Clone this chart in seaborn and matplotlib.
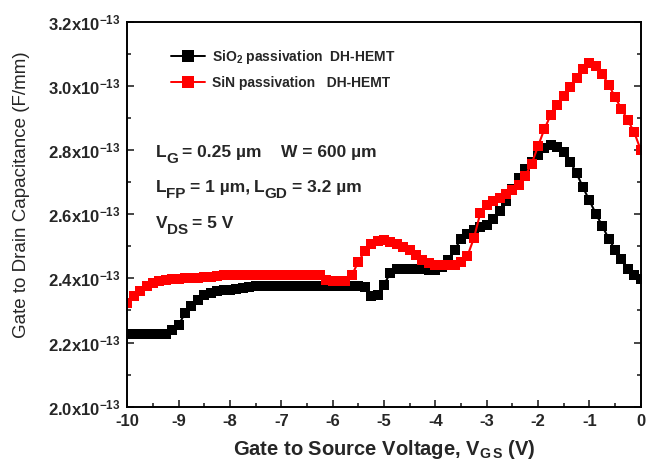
import numpy as np
import pandas as pd
import matplotlib
matplotlib.use("Agg")
import matplotlib.pyplot as plt
from matplotlib.lines import Line2D
from matplotlib.ticker import MultipleLocator, FuncFormatter
import seaborn as sns

# Gate-source voltage sweep (V)
vgs = np.arange(-10.0, 0.0001, 0.125)

# Gate-drain capacitance, in units of 1e-13 F/mm
cgd_sio2 = [
    2.226, 2.226, 2.226, 2.226, 2.226, 2.226, 2.228, 2.238, 2.255, 2.292,
    2.315, 2.333, 2.347, 2.356, 2.362, 2.364, 2.365, 2.367, 2.371, 2.374,
    2.375, 2.375, 2.375, 2.375, 2.375, 2.375, 2.375, 2.375, 2.375, 2.375,
    2.375, 2.375, 2.375, 2.375, 2.375, 2.375, 2.375, 2.372, 2.345, 2.348,
    2.380, 2.418, 2.428, 2.428, 2.428, 2.428, 2.428, 2.427, 2.427, 2.435,
    2.456, 2.490, 2.522, 2.538, 2.550, 2.559, 2.568, 2.584, 2.610, 2.640,
    2.678, 2.712, 2.740, 2.762, 2.784, 2.806, 2.816, 2.810, 2.795, 2.764,
    2.728, 2.684, 2.643, 2.602, 2.564, 2.524, 2.490, 2.460, 2.430, 2.412,
    2.398,
]
cgd_sin = [
    2.322, 2.345, 2.360, 2.377, 2.386, 2.391, 2.395, 2.398, 2.399, 2.400,
    2.401, 2.402, 2.403, 2.405, 2.408, 2.410, 2.410, 2.410, 2.410, 2.410,
    2.410, 2.410, 2.410, 2.410, 2.410, 2.410, 2.410, 2.410, 2.410, 2.410,
    2.410, 2.395, 2.393, 2.393, 2.393, 2.410, 2.452, 2.484, 2.506, 2.516,
    2.519, 2.515, 2.508, 2.499, 2.487, 2.472, 2.458, 2.447, 2.443, 2.442,
    2.442, 2.443, 2.450, 2.470, 2.525, 2.603, 2.628, 2.641, 2.652, 2.664,
    2.676, 2.692, 2.720, 2.757, 2.812, 2.866, 2.910, 2.940, 2.967, 2.995,
    3.025, 3.052, 3.070, 3.062, 3.037, 3.004, 2.965, 2.928, 2.893, 2.855,
    2.800,
]

series_labels = ["SiO$_{2}$ passivation  DH-HEMT", "SiN passivation   DH-HEMT"]
series_colors = ["#000000", "#ff0000"]

# Device parameters: runs of (text, is_subscript, gap before in points)
param_lines = [
    [("L", False, 0), ("G", True, 0), ("= 0.25 µm", False, 3),
     ("W = 600 µm", False, 14)],
    [("L", False, 0), ("FP", True, 0), ("= 1 µm,", False, 3),
     ("L", False, 3), ("GD", True, 0), ("= 3.2 µm", False, 3)],
    [("V", False, 0), ("DS", True, 0), ("= 5 V", False, 3)],
]
param_y = [0.649, 0.557, 0.463]

df = pd.concat([
    pd.DataFrame({"Vgs": vgs, "Cgd": np.array(cgd_sio2) * 1e-13, "device": series_labels[0]}),
    pd.DataFrame({"Vgs": vgs, "Cgd": np.array(cgd_sin) * 1e-13, "device": series_labels[1]}),
])

sns.set_style("ticks")
plt.rcParams["font.family"] = ["Liberation Sans", "DejaVu Sans"]
plt.rcParams["mathtext.fontset"] = "custom"
plt.rcParams["mathtext.rm"] = "Liberation Sans:bold"
plt.rcParams["mathtext.it"] = "Liberation Sans:bold"
plt.rcParams["mathtext.bf"] = "Liberation Sans:bold"
plt.rcParams["mathtext.sf"] = "Liberation Sans:bold"

fig = plt.figure(figsize=(6.56, 4.67), dpi=100)
ax = fig.add_axes([0.194, 0.129, 0.7827, 0.8245])

sns.lineplot(
    data=df, x="Vgs", y="Cgd", hue="device",
    palette=dict(zip(series_labels, series_colors)),
    marker="s", markersize=7, markeredgewidth=0, linewidth=1.5,
    legend=False, ax=ax, sort=False,
)

ax.set_xlim(-10, 0)
ax.set_ylim(2.0e-13, 3.2e-13)
ax.xaxis.set_major_locator(MultipleLocator(1))
ax.xaxis.set_minor_locator(MultipleLocator(0.5))
ax.yaxis.set_major_locator(MultipleLocator(0.2e-13))
ax.yaxis.set_minor_locator(MultipleLocator(0.1e-13))
ax.xaxis.set_major_formatter(FuncFormatter(lambda v, p: f"{v:.0f}"))
ax.yaxis.set_major_formatter(
    FuncFormatter(lambda v, p: f"{v * 1e13:.1f}x10$^{{-13}}$"))
ax.yaxis.get_offset_text().set_visible(False)

ax.tick_params(which="both", direction="in", right=True, top=False,
               width=1.2, labelsize=12)
ax.tick_params(which="major", length=5, pad=5)
ax.tick_params(which="minor", length=3)
for lab in ax.get_xticklabels() + ax.get_yticklabels():
    lab.set_fontweight("bold")
for s in ax.spines.values():
    s.set_visible(True)
    s.set_linewidth(1.4)
    s.set_color("black")

ax.set_xlabel("Gate to Source Voltage, V$_{\\mathrm{G\\,S}}$ (V)",
              fontsize=14.5, fontweight="bold")
ax.set_ylabel("Gate to Drain Capacitance (F/mm)", fontsize=13.5)
ax.xaxis.set_label_coords(0.5, -0.082)
ax.yaxis.set_label_coords(-0.19, 0.55)

handles = [
    Line2D([], [], color=c, marker="s", markersize=8, linewidth=1.4,
           markeredgewidth=0)
    for c in series_colors
]
ax.legend(handles, series_labels, loc="upper left",
          bbox_to_anchor=(0.06, 0.965), frameon=False,
          prop={"size": 10, "weight": "bold"}, handlelength=2.5,
          labelspacing=0.75, handletextpad=0.5)

# Parameter block with full-height, lowered subscripts
renderer = fig.canvas.get_renderer()
base_size = 12.5
for runs, yy in zip(param_lines, param_y):
    x_pt = 0.0
    for txt, sub, gap in runs:
        x_pt += gap
        fs = base_size * 0.88 if sub else base_size
        dy = -0.33 * base_size if sub else 0.0
        t = ax.annotate(txt, xy=(0.055, yy), xycoords="axes fraction",
                        xytext=(x_pt, dy), textcoords="offset points",
                        fontsize=fs, fontweight="bold",
                        ha="left", va="baseline")
        x_pt += t.get_window_extent(renderer).width * 72.0 / fig.dpi

fig.savefig("out.png", dpi=100)
